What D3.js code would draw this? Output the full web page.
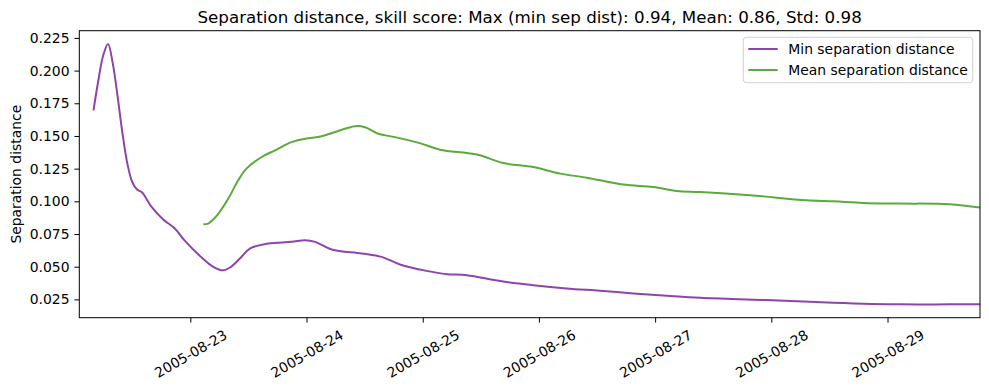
<!DOCTYPE html>
<html>
<head>
<meta charset="utf-8">
<script src="https://cdn.jsdelivr.net/npm/d3@7"></script>
<style>
  html, body { margin: 0; padding: 0; background: #fff; }
  svg { display: block; font-family: "DejaVu Sans", sans-serif; }
</style>
</head>
<body>
<svg id="chart" width="989" height="390"></svg>
<script>
// ---- data (hours since 2005-08-22 00:00 UTC) ----
const baseDate = "2005-08-22T00:00:00Z";
const xDomainHours = [1.07, 187.1];

const minHours  = [4, 5, 6, 7, 8, 9, 10, 11, 12, 13, 14, 16, 18.4, 20.8, 22.9, 26.35, 28.75, 30.7, 32.2, 34.3, 36.3, 40.1, 44.9, 47.7, 49.8, 53.2, 59.4, 63.5, 67.3, 72.8, 77, 81.1, 88, 94.8, 101.7, 108.6, 115.5, 122.4, 129.3, 143, 156.8, 170.6, 180.9, 187.1];
const minValues = [0.1695, 0.1924, 0.2115, 0.2204, 0.2051, 0.1797, 0.1517, 0.1288, 0.1148, 0.1090, 0.1069, 0.0957, 0.0861, 0.0792, 0.0697, 0.0570, 0.0499, 0.0472, 0.0494, 0.0565, 0.0639, 0.0677, 0.0690, 0.0703, 0.0690, 0.0632, 0.0601, 0.0575, 0.0517, 0.0468, 0.0443, 0.0435, 0.0390, 0.0359, 0.0334, 0.0316, 0.0296, 0.0278, 0.0262, 0.0245, 0.0225, 0.0212, 0.0212, 0.0212];

const meanHours  = [26.7, 27.7, 28.7, 29.8, 31.85, 33.9, 35.6, 38.75, 41.5, 44.9, 47.7, 51.1, 53.9, 58, 60.1, 62.8, 66.3, 71.4, 75.6, 81.1, 83.8, 88.6, 94.8, 100.4, 105.9, 113.4, 119.6, 124.5, 129.3, 139.6, 151.3, 156.8, 163, 170.6, 180.9, 187.1];
const meanValues = [0.0825, 0.0830, 0.0860, 0.0906, 0.1021, 0.1161, 0.1250, 0.1339, 0.1390, 0.1453, 0.1479, 0.1497, 0.1530, 0.1575, 0.1567, 0.1517, 0.1491, 0.1445, 0.1395, 0.1369, 0.1352, 0.1293, 0.1262, 0.1212, 0.1181, 0.1128, 0.1110, 0.1079, 0.1071, 0.1046, 0.1008, 0.1000, 0.0988, 0.0983, 0.0978, 0.0952];

const yTicks = [0.025, 0.050, 0.075, 0.100, 0.125, 0.150, 0.175, 0.200, 0.225];
const xTickLabels = ["2005-08-23", "2005-08-24", "2005-08-25", "2005-08-26", "2005-08-27", "2005-08-28", "2005-08-29"];
const yDomain = [0.011, 0.2305];

const titleText = "Separation distance, skill score: Max (min sep dist): 0.94, Mean: 0.86, Std: 0.98";
const yLabelText = "Separation distance";
const seriesNames = ["Min separation distance", "Mean separation distance"];
const seriesColors = ["#8e44ad", "#5aaa3c"];

// ---- layout ----
const svg = d3.select("#chart");
const margin = { left: 79.3, top: 30.7, right: 9, bottom: 72.3 };
const W = 989, H = 390;
const x0 = margin.left, x1 = W - margin.right, y0 = margin.top, y1 = H - margin.bottom;

const base = new Date(baseDate);
const toDate = h => new Date(base.getTime() + h * 3600 * 1000);

const x = d3.scaleUtc().domain(xDomainHours.map(toDate)).range([x0, x1]);
const y = d3.scaleLinear().domain(yDomain).range([y1, y0]);

const fs = 13.9;

// lines
const line = d3.line().x(d => x(d[0])).y(d => y(d[1])).curve(d3.curveCatmullRom.alpha(0.5));
const minData = minHours.map((h, i) => [toDate(h), minValues[i]]);
const meanData = meanHours.map((h, i) => [toDate(h), meanValues[i]]);

const plot = svg.append("g");
plot.append("clipPath").attr("id", "clip").append("rect")
  .attr("x", x0).attr("y", y0).attr("width", x1 - x0).attr("height", y1 - y0);
const lg = plot.append("g").attr("clip-path", "url(#clip)");
[minData, meanData].forEach((d, i) => {
  lg.append("path").datum(d).attr("d", line)
    .attr("fill", "none").attr("stroke", seriesColors[i])
    .attr("stroke-width", 2).attr("stroke-linejoin", "round").attr("stroke-linecap", "butt");
});

// y axis
const yAxis = d3.axisLeft(y).tickValues(yTicks).tickFormat(d3.format(".3f")).tickSize(4.9).tickPadding(4.9);
const yg = svg.append("g").attr("transform", `translate(${x0},0)`).call(yAxis);
yg.select(".domain").remove();
yg.selectAll("text").attr("font-size", fs).attr("font-family", "DejaVu Sans").attr("fill", "#000");
yg.selectAll("line").attr("stroke", "#000").attr("stroke-width", 1);

// x axis
const xTickDates = xTickLabels.map(s => new Date(s + "T00:00:00Z"));
const xAxis = d3.axisBottom(x).tickValues(xTickDates).tickFormat((d, i) => xTickLabels[i]).tickSize(4.9).tickPadding(0);
const xg = svg.append("g").attr("transform", `translate(0,${y1})`).call(xAxis);
xg.select(".domain").remove();
xg.selectAll("line").attr("stroke", "#000").attr("stroke-width", 1);
xg.selectAll("text").each(function () {
  const t = d3.select(this);
  t.attr("font-size", fs).attr("font-family", "DejaVu Sans").attr("fill", "#000")
   .attr("dy", null).attr("y", null)
   .attr("text-anchor", "middle").attr("dominant-baseline", "central");
  const w = this.getComputedTextLength();
  const h = fs * 1.0;
  const a = Math.PI / 6;
  const bh = w * Math.sin(a) + h * Math.cos(a);
  const top = 4.9 + 4.9;
  t.attr("transform", `translate(0,${top + bh / 2}) rotate(-30)`);
});

// frame
svg.append("rect").attr("x", x0).attr("y", y0).attr("width", x1 - x0).attr("height", y1 - y0)
  .attr("fill", "none").attr("stroke", "#000").attr("stroke-width", 1);

// title
svg.append("text").attr("x", (x0 + x1) / 2).attr("y", y0 - 8)
  .attr("text-anchor", "middle").attr("font-size", 16.7).attr("fill", "#000").text(titleText);

// y label
svg.append("text").attr("transform", `translate(21,${(y0 + y1) / 2}) rotate(-90)`)
  .attr("text-anchor", "middle").attr("font-size", fs).attr("fill", "#000").text(yLabelText);

// legend
const leg = svg.append("g");
leg.append("rect").attr("x", 743.3).attr("y", 37.3).attr("width", 229.4).attr("height", 45.4)
  .attr("rx", 3).attr("fill", "#fff").attr("fill-opacity", 0.8).attr("stroke", "#d0d0d0").attr("stroke-width", 1);
seriesNames.forEach((n, i) => {
  const ly = 49 + i * 21;
  leg.append("line").attr("x1", 748.3).attr("x2", 777.7).attr("y1", ly).attr("y2", ly)
    .attr("stroke", seriesColors[i]).attr("stroke-width", 2);
  leg.append("text").attr("x", 788.3).attr("y", ly + 5).attr("font-size", fs).attr("fill", "#000").text(n);
});
</script>
</body>
</html>
